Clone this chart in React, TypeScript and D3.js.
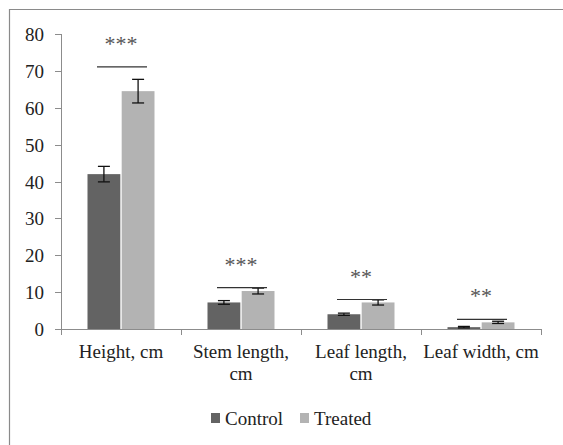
import { useEffect } from 'react';
import * as d3 from 'd3';

const categories = ['Height, cm', 'Stem length, cm', 'Leaf length, cm', 'Leaf width, cm'];
const categoryLines = [['Height, cm'], ['Stem length,', 'cm'], ['Leaf length,', 'cm'], ['Leaf width, cm']];
const seriesNames = ['Control', 'Treated'];
const controlValues = [42, 7.2, 4.0, 0.5];
const treatedValues = [64.5, 10.3, 7.2, 1.8];
const controlErrors = [2.1, 0.5, 0.3, 0.2];
const treatedErrors = [3.2, 0.8, 0.7, 0.3];
const sigLevels = [71.1, 11.2, 8.0, 2.6];
const sigLabels = ['***', '***', '**', '**'];
const yTicks = [0, 10, 20, 30, 40, 50, 60, 70, 80];

const colors = ['#636363', '#b3b3b3'];
const serif = 'Liberation Serif, Times New Roman, DejaVu Serif, serif';

const W = 563;
const H = 445;
const left = 61;
const right = 541;
const top = 34;
const bottom = 329;

export default function App() {
	useEffect(() => {
		document.body.style.margin = '0';
	}, []);

	const y = d3.scaleLinear().domain([0, 80]).range([bottom, top]);
	const x0 = d3.scaleBand<string>().domain(categories).range([left, right]).padding(0);
	const x1 = d3
		.scaleBand<string>()
		.domain(seriesNames)
		.range([26.5, x0.bandwidth() - 26.5])
		.paddingInner(0.04);

	const seriesValues = [controlValues, treatedValues];
	const seriesErrors = [controlErrors, treatedErrors];

	return (
		<svg width={W} height={H} style={{ display: 'block' }} fontFamily={serif}>
			<rect x={0} y={0} width={W} height={H} fill='#fff' />
			<path d={`M9.5,${H + 5}V9.5H${W + 5}`} fill='none' stroke='#8a8a8a' strokeWidth={1.2} />

			{/* y axis */}
			<line x1={left + 0.5} x2={left + 0.5} y1={top} y2={bottom} stroke='#8c8c8c' />
			{yTicks.map((t) => (
				<g key={t} transform={`translate(0, ${Math.round(y(t)) + 0.5})`}>
					<line x1={left - 6} x2={left} stroke='#8c8c8c' />
					<text x={44} dy='0.34em' textAnchor='end' fontSize={19} fontFamily={serif} fill='#222'>
						{t}
					</text>
				</g>
			))}

			{/* x axis */}
			<line x1={left} x2={right + 0.5} y1={bottom + 0.5} y2={bottom + 0.5} stroke='#8c8c8c' />
			{[...categories.map((c) => x0(c)!), right].map((xv, i) => (
				<line key={i} x1={xv + 0.5} x2={xv + 0.5} y1={bottom} y2={bottom + 6} stroke='#8c8c8c' />
			))}

			{/* bars */}
			{categories.map((c, ci) => (
				<g key={c} transform={`translate(${x0(c)}, 0)`}>
					{seriesNames.map((s, si) => {
						const v = seriesValues[si][ci];
						const e = seriesErrors[si][ci];
						const bx = x1(s)!;
						const cx = bx + x1.bandwidth() / 2;
						return (
							<g key={s}>
								<rect
									x={bx}
									y={y(v)}
									width={x1.bandwidth()}
									height={y(0) - y(v)}
									fill={colors[si]}
								/>
								<line x1={cx} x2={cx} y1={y(v + e)} y2={y(v - e)} stroke='#111' strokeWidth={1.3} />
								<line x1={cx - 6} x2={cx + 6} y1={y(v + e)} y2={y(v + e)} stroke='#111' strokeWidth={1.3} />
								<line x1={cx - 6} x2={cx + 6} y1={y(v - e)} y2={y(v - e)} stroke='#111' strokeWidth={1.3} />
							</g>
						);
					})}
					<line
						x1={x0.bandwidth() / 2 - 24}
						x2={x0.bandwidth() / 2 + 26}
						y1={y(sigLevels[ci])}
						y2={y(sigLevels[ci])}
						stroke='#333'
						strokeWidth={1.2}
					/>
					<text
						x={x0.bandwidth() / 2}
						y={y(sigLevels[ci]) - 16}
						textAnchor='middle'
						fontSize={22}
						fontFamily={serif}
						fill='#555'
					>
						{sigLabels[ci]}
					</text>
				</g>
			))}

			{/* category labels */}
			{categories.map((c, ci) => (
				<text key={c} textAnchor='middle' fontSize={19} fontFamily={serif} fill='#222'>
					{categoryLines[ci].map((line, li) => (
						<tspan key={li} x={x0(c)! + x0.bandwidth() / 2} y={358 + li * 22}>
							{line}
						</tspan>
					))}
				</text>
			))}

			{/* legend */}
			{seriesNames.map((s, si) => (
				<g key={s} transform={`translate(${211 + si * 89}, 0)`}>
					<rect x={0} y={413} width={9} height={10} fill={colors[si]} />
					<text x={14} y={425} fontSize={19} fontFamily={serif} fill='#222'>
						{s}
					</text>
				</g>
			))}
		</svg>
	);
}
